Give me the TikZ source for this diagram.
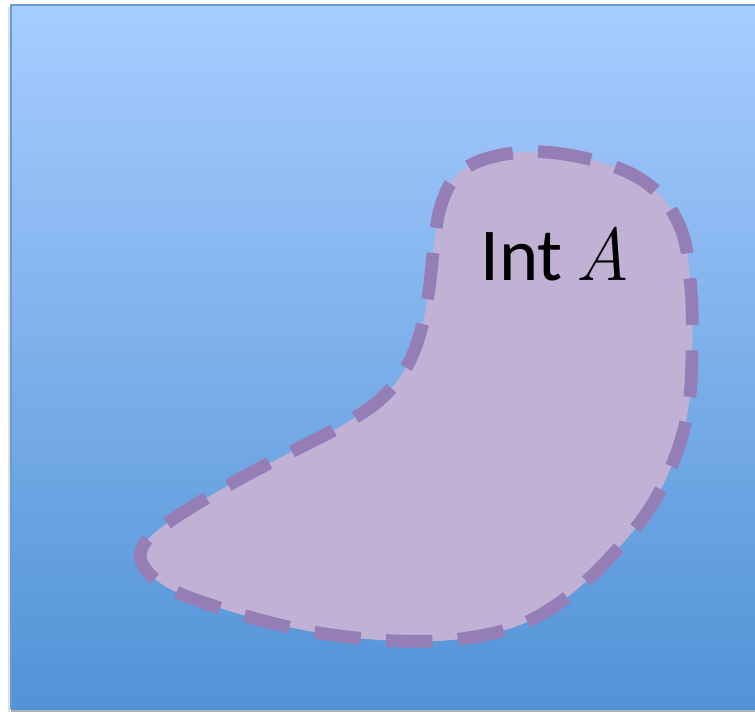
\documentclass[tikz,border=0pt]{standalone}
\usepackage{fontspec}
\setmainfont{Carlito}
\newfontfamily\mathitfont{Latin Modern Roman}
\definecolor{bgtop}{HTML}{A8CCFF}
\definecolor{bgbot}{HTML}{5193D6}
\definecolor{frame}{HTML}{6A9BD0}
\definecolor{blobfill}{HTML}{C1B1D5}
\definecolor{blobline}{HTML}{957DB6}
\tikzset{
  blob/.style={fill=blobfill, draw=blobline, line width=9.5pt, dash pattern=on 35pt off 19pt},
  bgrect/.style={top color=bgtop, bottom color=bgbot, draw=none},
  label/.style={font=\fontsize{56}{60}\selectfont, inner sep=0pt, anchor=base}
}
\begin{document}
\begin{tikzpicture}[x=0.75pt,y=-0.75pt]
\useasboundingbox (0,0) rectangle (755,712);
\fill[white] (0,0) rectangle (755,712);
% soft shadow
\fill[black!12] (8,7) rectangle (755,712);
\fill[black!30] (11,709) rectangle (755,712);
% background panel
\shade[bgrect] (11,5) rectangle (755,709);
\draw[frame, line width=1.6pt] (11,709) -- (11,5) -- (755,5);
% blob
\path[blob] plot[smooth cycle, tension=0.6] coordinates {
 (492,157) (545,152) (610,165) (655,190) (682,232) (691,290) (692,355)
 (688,410) (674,460) (650,508) (615,552) (570,595) (520,625) (460,639)
 (400,641) (340,636) (280,625) (220,608) (172,590) (146,570) (141,550)
 (158,530) (195,505) (245,476) (295,450) (343,425) (382,398) (407,366)
 (421,330) (429,290) (434,245) (441,205) (458,174)};
\node[label] (lbl) at (555,281) {Int\,\mathitfont\itshape A};
\end{tikzpicture}
\end{document}
